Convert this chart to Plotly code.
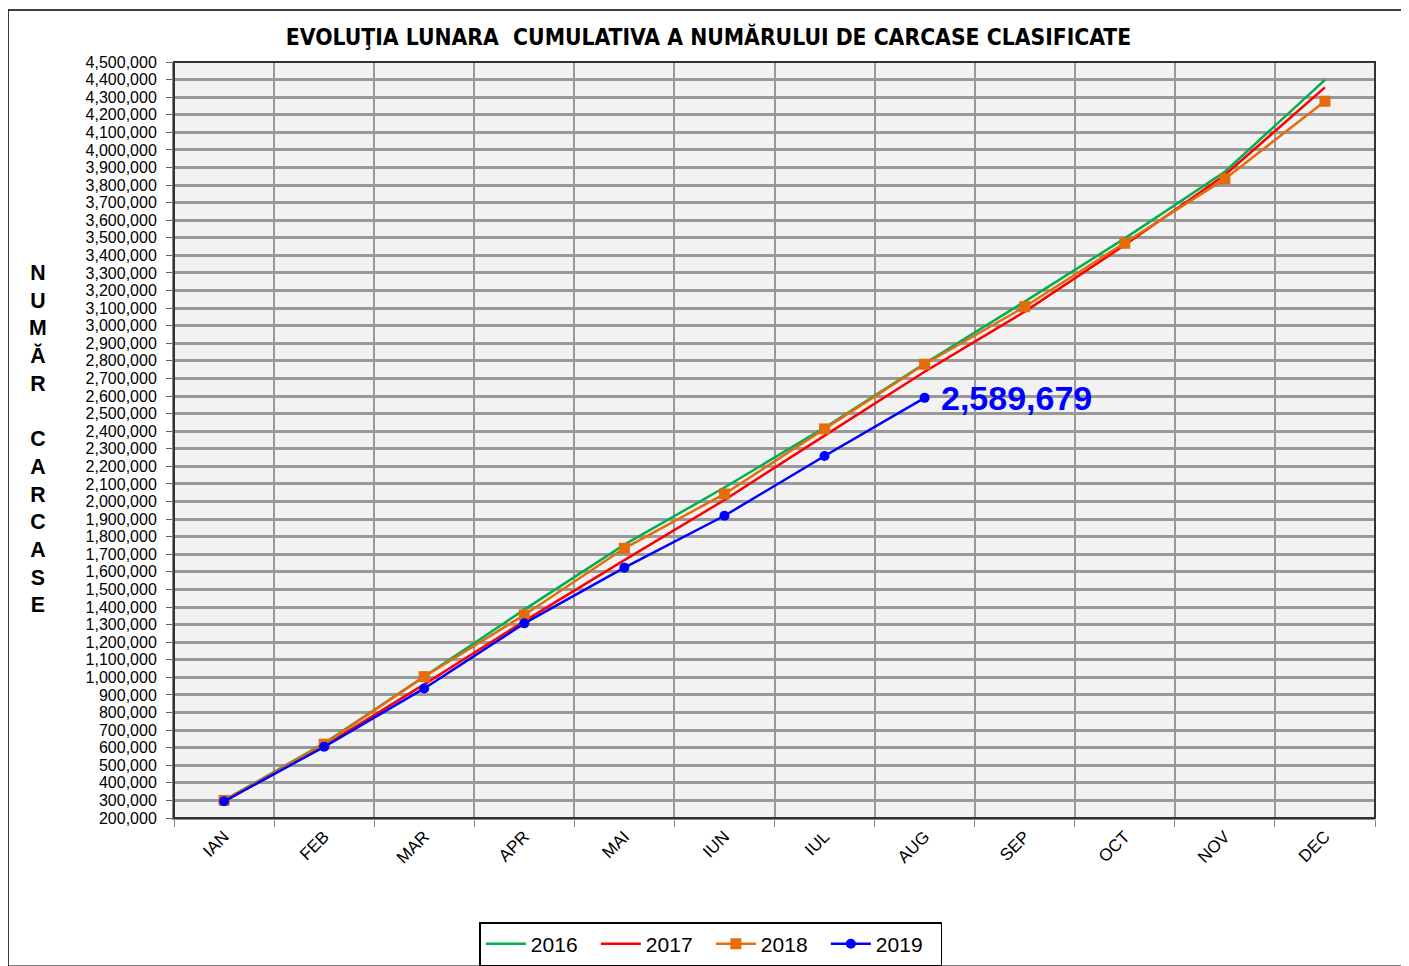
import plotly.graph_objects as go

months = ["IAN", "FEB", "MAR", "APR", "MAI", "IUN", "IUL", "AUG", "SEP", "OCT", "NOV", "DEC"]
y2016 = [300000, 625000, 1005000, 1385000, 1755000, 2080000, 2420000, 2785000, 3137000, 3497000, 3876000, 4398000]
y2017 = [295000, 610000, 960000, 1320000, 1667000, 2009000, 2375000, 2738000, 3080000, 3459000, 3857000, 4356000]
y2018 = [300000, 620000, 1004000, 1355000, 1734000, 2043000, 2413000, 2781000, 3108000, 3469000, 3835000, 4277000]
y2019 = [295000, 605000, 937000, 1307000, 1624000, 1919000, 2259000, 2589679]
last_label = "2,589,679"

FONT = "Liberation Sans, Arial, sans-serif"

fig = go.Figure()
fig.add_trace(go.Scatter(x=months, y=y2016, name="2016", mode="lines",
                         line=dict(color="#00b050", width=2.5)))
fig.add_trace(go.Scatter(x=months, y=y2017, name="2017", mode="lines",
                         line=dict(color="#ff0000", width=2.5)))
fig.add_trace(go.Scatter(x=months, y=y2018, name="2018", mode="lines+markers",
                         line=dict(color="#e46c0a", width=2.5),
                         marker=dict(symbol="square", size=11, color="#e46c0a")))
fig.add_trace(go.Scatter(x=months[:len(y2019)], y=y2019, name="2019", mode="lines+markers",
                         line=dict(color="#0000ff", width=2.5),
                         marker=dict(symbol="circle", size=10, color="#0000ff")))

fig.add_annotation(x=months[len(y2019) - 1], y=y2019[-1], text="<b>" + last_label + "</b>",
                   showarrow=False, xanchor="left", xshift=14, yshift=0,
                   font=dict(family=FONT, size=34, color="#0000ff"))

ytitle = "<br>".join(list("NUMĂR")) + "<br><br>" + "<br>".join(list("CARCASE"))
fig.add_annotation(xref="paper", yref="paper", x=-0.113, y=0.7394, text="<b>" + ytitle + "</b>",
                   showarrow=False, xanchor="center", yanchor="top", align="center",
                   font=dict(family=FONT, size=21.3, color="black"))

fig.add_shape(type="rect", xref="paper", yref="paper",
              x0=-0.1382, x1=1.0241, y0=-0.196, y1=1.0688,
              line=dict(color="black", width=1.5), fillcolor="rgba(0,0,0,0)", layer="below")

fig.update_layout(
    width=1401, height=958,
    margin=dict(l=166, r=34, t=54, b=148, autoexpand=False),
    paper_bgcolor="white", plot_bgcolor="#f2f2f2",
    title=dict(text="<b>EVOLUŢIA LUNARA  CUMULATIVA A NUMĂRULUI DE CARCASE CLASIFICATE</b>",
               x=0.5, xanchor="center", y=0.9697, yanchor="middle",
               font=dict(family="DejaVu Sans Condensed, Liberation Sans Narrow, " + FONT, size=22.7, color="black")),
    font=dict(family=FONT, color="black"),
    showlegend=True,
    legend=dict(orientation="h", x=0.447, xanchor="center", y=-0.1376, yanchor="top",
                bordercolor="black", borderwidth=1.5, bgcolor="white",
                font=dict(family=FONT, size=21), itemwidth=40, tracegroupgap=0,
                entrywidth=60, entrywidthmode="pixels"),
)
fig.update_xaxes(type="category", tickson="boundaries", showgrid=True, gridcolor="#999999", gridwidth=2,
                 ticks="outside", ticklen=7, tickcolor="#888888", tickangle=-45,
                 tickfont=dict(family=FONT, size=17), showline=True, linecolor="#888888", linewidth=2,
                 mirror=False, range=[-0.5, 11.5])
fig.update_yaxes(range=[200000, 4500000], dtick=100000, tickformat=",d", showgrid=True,
                 gridcolor="#999999", gridwidth=2.5, ticks="outside", ticklen=6, tickcolor="#666666",
                 tickfont=dict(family=FONT, size=16), ticklabelstandoff=6,
                 showline=True, linecolor="#888888", linewidth=2, zeroline=False)
fig.add_shape(type="rect", xref="paper", yref="paper", x0=0, x1=1, y0=0, y1=1,
              line=dict(color="#333333", width=2), fillcolor="rgba(0,0,0,0)", layer="above")

fig.write_html("out.html")
